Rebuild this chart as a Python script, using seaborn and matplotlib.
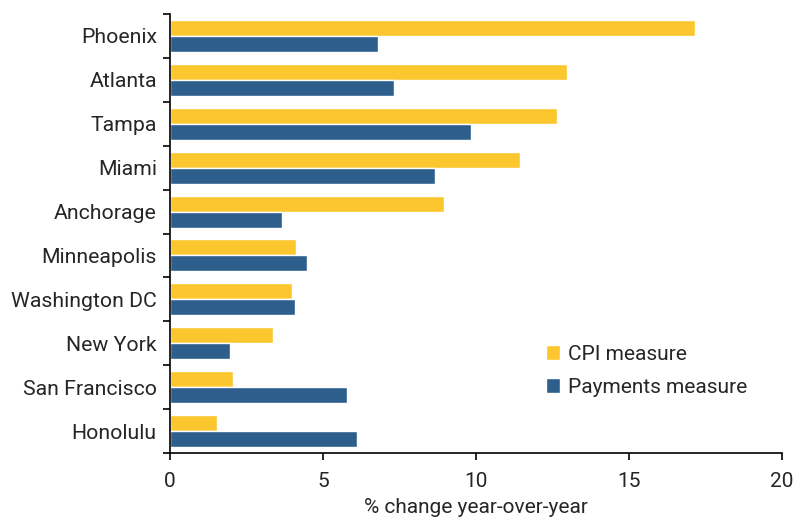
import pandas as pd
import matplotlib
matplotlib.use("Agg")
import matplotlib.pyplot as plt
import seaborn as sns
from matplotlib.ticker import FixedLocator

# data
cities = ["Phoenix", "Atlanta", "Tampa", "Miami", "Anchorage", "Minneapolis",
          "Washington DC", "New York", "San Francisco", "Honolulu"]
cpi_measure = [17.16, 12.99, 12.64, 11.44, 8.97, 4.13, 4.00, 3.35, 2.07, 1.53]
payments_measure = [6.80, 7.32, 9.84, 8.67, 3.66, 4.47, 4.09, 1.95, 5.80, 6.11]
series_names = ["CPI measure", "Payments measure"]
x_ticks = [0, 5, 10, 15, 20]

df = pd.DataFrame({
    "city": cities * 2,
    "value": cpi_measure + payments_measure,
    "series": [series_names[0]] * len(cities) + [series_names[1]] * len(cities),
})

sns.set_style("white")
plt.rcParams["font.family"] = ["Roboto", "DejaVu Sans"]

fig = plt.figure(figsize=(8.06, 5.18), dpi=100)
ax = fig.add_axes([170 / 806, 1 - 453 / 518, 612 / 806, 439 / 518])

sns.barplot(data=df, x="value", y="city", hue="series", orient="h",
            palette=["#FCC62E", "#2E5F8C"], width=0.73, ax=ax,
            saturation=1, errorbar=None)

ax.set_xlim(0, 20)
ax.set_ylim(len(cities) - 0.5, -0.5)
ax.set_xticks(x_ticks)
ax.set_xlabel("% change year-over-year", fontsize=15, labelpad=5)
ax.set_ylabel("")

# category labels without ticks, boundary ticks on the left spine
ax.tick_params(axis="y", which="major", length=0, labelsize=15.3, pad=9.5)
ax.yaxis.set_minor_locator(FixedLocator([i - 0.5 for i in range(len(cities) + 1)]))
ax.tick_params(axis="y", which="minor", length=5, width=1.2, color="black", left=True)
ax.tick_params(axis="x", length=5, width=1.2, color="black", bottom=True,
               labelsize=15, pad=9)

sns.despine(ax=ax)
for side in ["left", "bottom"]:
    ax.spines[side].set_color("black")
    ax.spines[side].set_linewidth(1.2)

ax.legend(title=None, frameon=False, loc="center left",
          bbox_to_anchor=(0.6, 0.187), fontsize=15, handlelength=0.7,
          handleheight=0.7, handletextpad=0.4, labelspacing=0.68,
          borderaxespad=0)

fig.savefig("out.png", dpi=100)
